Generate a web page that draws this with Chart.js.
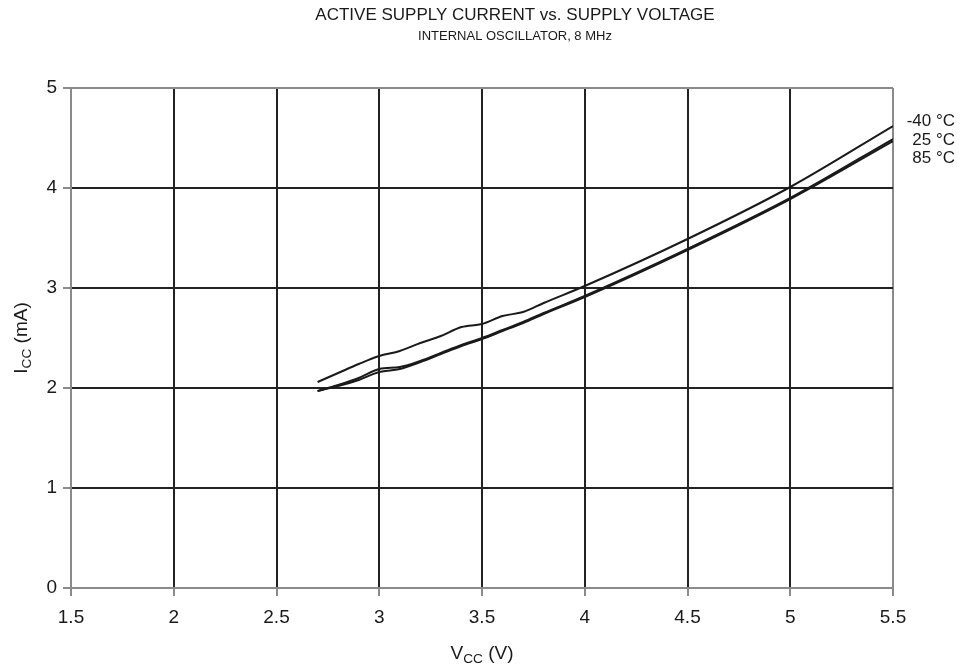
<!DOCTYPE html>
<html>
<head>
<meta charset="utf-8">
<script src="https://cdn.jsdelivr.net/npm/chart.js@4"></script>
<style>
  html, body { margin: 0; padding: 0; background: #fff; }
  #chart { display: block; }
</style>
</head>
<body>
<canvas id="chart" width="967" height="668"></canvas>
<script>
// Dados
const voltages = [2.7, 2.8, 2.9, 3.0, 3.1, 3.2, 3.3, 3.4, 3.5, 3.6, 3.7, 3.8, 4.0, 4.5, 5.0, 5.5];
const icc_m40 = [2.06, 2.15, 2.24, 2.32, 2.37, 2.45, 2.52, 2.61, 2.64, 2.72, 2.76, 2.85, 3.02, 3.49, 4.01, 4.62];
const icc_25  = [1.97, 2.03, 2.10, 2.19, 2.21, 2.27, 2.35, 2.43, 2.50, 2.58, 2.66, 2.75, 2.92, 3.39, 3.90, 4.49];
const icc_85  = [1.97, 2.02, 2.08, 2.16, 2.19, 2.26, 2.34, 2.42, 2.49, 2.57, 2.65, 2.74, 2.91, 3.38, 3.89, 4.47];
const seriesLabels = ['-40 °C', '25 °C', '85 °C'];
const xTicks = [1.5, 2, 2.5, 3, 3.5, 4, 4.5, 5, 5.5];
const yTicks = [0, 1, 2, 3, 4, 5];

const FONT = "'Liberation Sans', Arial, sans-serif";
const INK = '#1a1a1a';
const GRID = '#222222';
const EDGE = '#8a8a8a';

function toPoints(ys) {
  return voltages.map((v, i) => ({ x: v, y: ys[i] }));
}

// Texto com subscrito (I_CC, V_CC)
function drawSubText(ctx, parts, x, y, size) {
  let total = 0;
  parts.forEach(p => {
    ctx.font = `${p.sub ? size * 0.72 : size}px ${FONT}`;
    total += ctx.measureText(p.t).width;
  });
  let cx = x - total / 2;
  parts.forEach(p => {
    ctx.font = `${p.sub ? size * 0.72 : size}px ${FONT}`;
    ctx.fillText(p.t, cx, p.sub ? y + size * 0.28 : y);
    cx += ctx.measureText(p.t).width;
  });
}

const textPlugin = {
  id: 'textPlugin',
  afterDraw(chart) {
    const ctx = chart.ctx;
    const area = chart.chartArea;
    ctx.save();
    ctx.fillStyle = INK;
    ctx.textBaseline = 'middle';

    // Títulos
    ctx.textAlign = 'center';
    ctx.font = `17px ${FONT}`;
    ctx.fillText('ACTIVE SUPPLY CURRENT vs. SUPPLY VOLTAGE', 515, 15);
    ctx.font = `13px ${FONT}`;
    ctx.fillText('INTERNAL OSCILLATOR, 8 MHz', 515, 36);

    // Título eixo X
    ctx.textAlign = 'left';
    drawSubText(ctx, [{ t: 'V' }, { t: 'CC', sub: true }, { t: ' (V)' }], (area.left + area.right) / 2, 654, 19);

    // Título eixo Y (rotacionado)
    ctx.save();
    ctx.translate(22, (area.top + area.bottom) / 2);
    ctx.rotate(-Math.PI / 2);
    drawSubText(ctx, [{ t: 'I' }, { t: 'CC', sub: true }, { t: ' (mA)' }], 0, 0, 19);
    ctx.restore();

    // Rótulos das temperaturas
    ctx.textAlign = 'right';
    ctx.font = `17px ${FONT}`;
    const ys = [121, 140, 158];
    seriesLabels.forEach((s, i) => ctx.fillText(s, 955, ys[i]));
    ctx.restore();
  }
};

const lineStyle = {
  borderColor: INK,
  borderWidth: 2,
  pointRadius: 0,
  fill: false,
  cubicInterpolationMode: 'monotone'
};

new Chart(document.getElementById('chart'), {
  type: 'line',
  data: {
    datasets: [
      { label: seriesLabels[0], data: toPoints(icc_m40), ...lineStyle },
      { label: seriesLabels[1], data: toPoints(icc_25), ...lineStyle },
      { label: seriesLabels[2], data: toPoints(icc_85), ...lineStyle }
    ]
  },
  options: {
    responsive: false,
    animation: false,
    devicePixelRatio: 1,
    layout: { padding: { left: 0, right: 74, top: 88, bottom: 0 } },
    plugins: {
      legend: { display: false },
      tooltip: { enabled: false },
      title: { display: false }
    },
    scales: {
      x: {
        type: 'linear',
        min: 1.5,
        max: 5.5,
        afterBuildTicks: s => { s.ticks = xTicks.map(v => ({ value: v })); },
        afterFit: s => { s.height = 80; },
        grid: {
          color: c => (c.tick && (c.tick.value === 5.5 || c.tick.value === 1.5)) ? EDGE : GRID,
          lineWidth: 2,
          tickColor: EDGE,
          tickLength: 8,
          drawTicks: true
        },
        border: { color: EDGE, width: 2 },
        ticks: {
          color: INK,
          font: { family: FONT, size: 19 },
          padding: 10,
          maxRotation: 0,
          callback: v => String(v)
        }
      },
      y: {
        min: 0,
        max: 5,
        afterBuildTicks: s => { s.ticks = yTicks.map(v => ({ value: v })); },
        afterFit: s => { s.width = 71; },
        grid: {
          color: c => (c.tick && (c.tick.value === 5 || c.tick.value === 0)) ? EDGE : GRID,
          lineWidth: 2,
          tickColor: EDGE,
          tickLength: 8
        },
        border: { color: EDGE, width: 2 },
        ticks: {
          color: INK,
          font: { family: FONT, size: 19 },
          padding: 6,
          callback: v => String(v)
        }
      }
    }
  },
  plugins: [textPlugin]
});
</script>
</body>
</html>
